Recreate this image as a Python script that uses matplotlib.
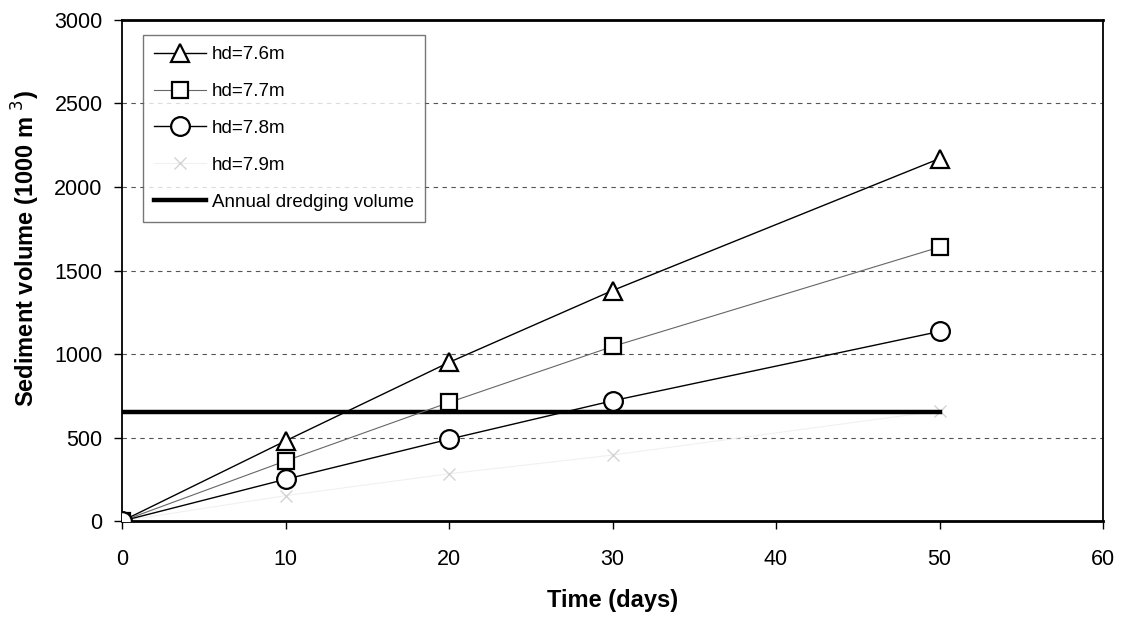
import matplotlib
matplotlib.use("Agg")
import matplotlib.pyplot as plt

plt.rcParams['font.family'] = ['Liberation Sans', 'DejaVu Sans']

days = [0, 10, 20, 30, 50]
hd76 = [0, 480, 950, 1380, 2170]
hd77 = [0, 360, 710, 1045, 1640]
hd78 = [0, 250, 490, 720, 1135]
hd79 = [0, 152, 283, 395, 660]
annual_days = [0, 50]
annual_volume = [655, 655]

fig = plt.figure(figsize=(11.27, 6.24), dpi=100)
ax = fig.add_axes([0.1083, 0.165, 0.8704, 0.803])

mk = dict(markerfacecolor='white', markeredgecolor='black', markeredgewidth=1.6)
ax.plot(days, hd76, color='black', lw=1.0, marker='^', markersize=13,
        label='hd=7.6m', zorder=4, **mk)
ax.plot(days, hd77, color='#666666', lw=0.8, marker='s', markersize=11,
        label='hd=7.7m', zorder=4, **mk)
ax.plot(days, hd78, color='black', lw=1.0, marker='o', markersize=13.5,
        label='hd=7.8m', zorder=4, **mk)
ax.plot(days, hd79, color='#f0f0f0', lw=0.8, marker='x', markersize=9,
        markeredgecolor='#d4d4d4', markeredgewidth=1.0, label='hd=7.9m', zorder=3)
ax.plot(annual_days, annual_volume, color='black', lw=3.2,
        label='Annual dredging volume', zorder=3)

ax.set_xlim(0, 60)
ax.set_ylim(0, 3000)
ax.set_xticks(range(0, 61, 10))
ax.set_yticks(range(0, 3001, 500))
ax.yaxis.grid(True, linestyle=(0, (4, 4)), color='#555555', lw=0.8)
ax.set_axisbelow(True)

ax.tick_params(axis='both', direction='out', length=6, width=1, labelsize=15.5,
               color='black')
ax.tick_params(axis='y', pad=8)
ax.tick_params(axis='x', pad=14)
for side in ('top', 'bottom'):
    ax.spines[side].set_linewidth(2.0)
for side in ('left', 'right'):
    ax.spines[side].set_linewidth(1.3)

ax.set_xlabel('Time (days)', fontsize=17, fontweight='bold', labelpad=14)
ax.set_ylabel('Sediment volume (1000 m $^3$)', fontsize=17, fontweight='bold')
ax.yaxis.set_label_coords(-0.082, 0.543)

leg = ax.legend(loc='upper left', bbox_to_anchor=(0.021, 0.97), borderaxespad=0,
                fontsize=13.5, frameon=True, fancybox=False, handlelength=2.8,
                handletextpad=0.3, labelspacing=1.05, borderpad=0.6)
leg.get_frame().set_edgecolor('#555555')
leg.get_frame().set_linewidth(1.0)

fig.savefig('out.png', dpi=100)
